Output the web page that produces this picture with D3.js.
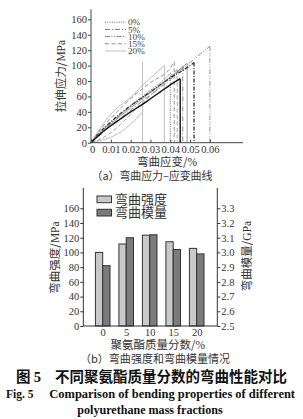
<!DOCTYPE html>
<html><head><meta charset="utf-8">
<script src="https://cdn.jsdelivr.net/npm/d3@7"></script>
<style>
body{margin:0;background:#fff;}
svg{display:block;}
</style></head>
<body>
<svg id="c" width="303" height="419"></svg>
<script>
// ---------- Data: (a) stress-strain curves ----------
const strainTicks = [0, 0.01, 0.02, 0.03, 0.04, 0.05, 0.06];
const strainTickLabels = ["0", "0.01", "0.02", "0.03", "0.04", "0.05", "0.06"];
const stressTicks = [0, 20, 40, 60, 80, 100, 120, 140, 160];
const legendSeries = ["0%", "5%", "10%", "15%", "20%"];

// [strain, stress MPa]; each specimen ends with its fracture drop
const curve0a  = [[0,0],[0.005,14],[0.01,26],[0.02,48],[0.03,68],[0.036,80],[0.040,90],[0.040,0]];
const curve0b  = [[0,0],[0.005,12],[0.01,22],[0.015,31],[0.02,40],[0.025,48],[0.03,57],[0.035,66],[0.04,75],[0.045,83],[0.045,0]];
const curve5a  = [[0,0],[0.005,11],[0.01,22],[0.02,42],[0.03,62],[0.04,82],[0.0463,99],[0.0463,0]];
const curve5b  = [[0,0],[0.005,15],[0.01,27],[0.02,48],[0.03,66],[0.04,84],[0.05,100],[0.052,104],[0.052,0]];
const curve10a = [[0,0],[0.005,13],[0.01,25],[0.02,47],[0.03,66],[0.04,84],[0.05,104],[0.056,117],[0.060,125],[0.060,0]];
const curve15a = [[0,0],[0.005,18],[0.01,32],[0.02,57],[0.03,78],[0.04,97],[0.042,105],[0.042,0]];
const curve15b = [[0,0],[0.005,5],[0.01,13],[0.015,24],[0.02,37],[0.03,61],[0.04,86],[0.0435,95],[0.0435,0]];
const curve20a = [[0,0],[0.005,20],[0.01,37],[0.02,59],[0.028,79],[0.037,100],[0.037,0]];
const curve20b = [[0,0],[0.005,3],[0.01,7],[0.015,14],[0.02,24],[0.026,40],[0.026,105],[0.026,0]];
const curve20c = [[0,0],[0.005,12],[0.01,24],[0.02,45],[0.03,65],[0.04,85],[0.0485,103],[0.0485,0]];

const specimens = [
  {id:"20b", pts:curve20b}, {id:"20a", pts:curve20a}, {id:"20c", pts:curve20c},
  {id:"15a", pts:curve15a}, {id:"15b", pts:curve15b},
  {id:"10a", pts:curve10a},
  {id:"5a", pts:curve5a}, {id:"5b", pts:curve5b},
  {id:"0a", pts:curve0a}, {id:"0b", pts:curve0b}
];

// ---------- Data: (b) bar chart ----------
const categories = ["0", "5", "10", "15", "20"];
const strengthMPa = [100, 111.5, 123.5, 114.5, 105.5];
const modulusGPa  = [2.91, 3.10, 3.12, 3.02, 2.99];
const leftTicks  = [0, 20, 40, 60, 80, 100, 120, 140, 160];
const rightTicks = [2.5, 2.6, 2.7, 2.8, 2.9, 3.0, 3.1, 3.2, 3.3];
const barLegend  = ["弯曲强度", "弯曲模量"];

// ---------- styles ----------
const SERIF = "'Liberation Serif','DejaVu Serif',serif";
const CJK = "'Noto Sans CJK SC',sans-serif";
const TXT = "#333";
const seriesStyle = {
  "0%":  {stroke:"#555", width:0.9, dash:"1,1.3"},
  "5%":  {stroke:"#666", width:0.9, dash:"5,2,1,2"},
  "10%": {stroke:"#777", width:0.9, dash:"5,1.5,1,1.5,1,1.5"},
  "15%": {stroke:"#888", width:0.9, dash:"4,2.5"},
  "20%": {stroke:"#bdbdbd", width:1.0, dash:null}
};
const specStyle = {
  "0a": {stroke:"#555", width:0.9, dash:"1,1.3"},
  "0b": {stroke:"#111", width:1.4, dash:null},
  "5a": {stroke:"#777", width:0.9, dash:"5,2,1,2"},
  "5b": {stroke:"#333", width:1.3, dash:"4,1.5,1,1.5"},
  "10a":{stroke:"#888", width:0.9, dash:"5,1.5,1,1.5,1,1.5"},
  "15a":{stroke:"#888", width:0.9, dash:"4,2.5"},
  "15b":{stroke:"#999", width:0.9, dash:"4,2.5"},
  "20a":{stroke:"#bdbdbd", width:1.0, dash:null},
  "20b":{stroke:"#c4c4c4", width:1.0, dash:null},
  "20c":{stroke:"#9a9a9a", width:1.0, dash:null}
};

const svg = d3.select("#c");

// ================= (a) =================
const ax = {left:91, right:243, bottom:142.7, top:9.3};
const x = d3.scaleLinear().domain([0, 0.0767]).range([ax.left, ax.right]);
const y = d3.scaleLinear().domain([0, 173]).range([ax.bottom, ax.top]);

const gA = svg.append("g");
const line = d3.line().x(d=>x(d[0])).y(d=>y(d[1]));
const smooth = d3.line().x(d=>x(d[0])).y(d=>y(d[1])).curve(d3.curveMonotoneX);

specimens.forEach(s => {
  const st = specStyle[s.id];
  // smooth rising part, straight fracture drop
  const rise = s.pts.filter((p,i)=> i < s.pts.length - 1 && !(i>0 && p[0]===s.pts[i-1][0]));
  const drops = s.pts.slice(rise.length - 1);
  [smooth(rise), line(drops)].forEach(dp=>{
    gA.append("path").attr("d", dp)
      .attr("fill","none").attr("stroke",st.stroke).attr("stroke-width",st.width)
      .attr("stroke-dasharray",st.dash);
  });
});

// axes
const yAxisA = d3.axisLeft(y).tickValues(stressTicks).tickSize(3).tickPadding(1).tickFormat(d3.format("d"));
const gy = gA.append("g").attr("transform",`translate(${ax.left},0)`).call(yAxisA);
gy.select(".domain").attr("d",`M0,${ax.bottom}V${ax.top}`);
const xAxisA = d3.axisBottom(x).tickValues(strainTicks).tickSize(-3).tickPadding(3)
  .tickFormat((d,i)=>strainTickLabels[i]);
const gx = gA.append("g").attr("transform",`translate(0,${ax.bottom})`).call(xAxisA);
gx.select(".domain").attr("d",`M${ax.left},0H${ax.right}`);
[gy,gx].forEach(g=>{
  g.selectAll(".domain").attr("stroke","#444").attr("stroke-width",1);
  g.selectAll(".tick line").attr("stroke","#444");
  g.selectAll("text").attr("font-family",SERIF).attr("font-size",10.5).attr("fill",TXT);
});
gx.selectAll(".tick").filter(d=>d===0).select("text").attr("dx",1);

// legend (a)
const lg = gA.append("g");
const legY = [22.2, 29.4, 36.6, 43.8, 51.0];
legendSeries.forEach((s,i)=>{
  const st = seriesStyle[s];
  lg.append("line").attr("x1",105).attr("x2",126).attr("y1",legY[i]).attr("y2",legY[i])
    .attr("stroke",st.stroke).attr("stroke-width",st.width).attr("stroke-dasharray",st.dash);
  lg.append("text").attr("x",128).attr("y",legY[i]+3.2).text(s)
    .attr("font-family",SERIF).attr("font-size",9.2).attr("fill","#444");
});

// titles (a)
function rotTitle(g, cx, cy, cjk, lat){
  const t = g.append("text").attr("transform",`translate(${cx},${cy}) rotate(-90)`).attr("text-anchor","middle")
    .attr("font-family",CJK).attr("font-size",11.5).attr("fill",TXT);
  t.append("tspan").text(cjk);
  t.append("tspan").attr("font-family",SERIF).text(lat);
}
rotTitle(gA, 65, 76, "拉伸应力/", "MPa");
gA.append("text").attr("x",167).attr("y",166).attr("text-anchor","middle")
  .attr("font-family",CJK).attr("font-size",11.5).attr("fill",TXT)
  .text("弯曲应变/").append("tspan").attr("font-family",SERIF).text("%");
gA.append("text").attr("x",152).attr("y",180).attr("text-anchor","middle")
  .attr("font-family",CJK).attr("font-size",11).attr("fill",TXT)
  .attr("textLength",121).attr("lengthAdjust","spacing")
  .text("（a）弯曲应力–应变曲线");

// ================= (b) =================
const bx = {left:83.3, right:217.3, bottom:326, top:188, y160:208.3};
const yL = d3.scaleLinear().domain([0, 160]).range([bx.bottom, bx.y160]);
const yR = d3.scaleLinear().domain([2.5, 3.3]).range([bx.bottom, bx.y160]);
const xc = d3.scalePoint().domain(categories).range([bx.left + 19.4, bx.right - 20.6]);
const bw = 7.3;

const gB = svg.append("g");
gB.selectAll("rect.s").data(categories).join("rect").attr("class","s")
  .attr("x",(d)=>xc(d)-bw).attr("width",bw)
  .attr("y",(d,i)=>yL(strengthMPa[i])).attr("height",(d,i)=>yL(0)-yL(strengthMPa[i]))
  .attr("fill","#c9c9c9").attr("stroke","#333").attr("stroke-width",1);
gB.selectAll("rect.m").data(categories).join("rect").attr("class","m")
  .attr("x",(d)=>xc(d)).attr("width",bw)
  .attr("y",(d,i)=>yR(modulusGPa[i])).attr("height",(d,i)=>yR(2.5)-yR(modulusGPa[i]))
  .attr("fill","#7b7b7b").attr("stroke","#333").attr("stroke-width",1);

const gl = gB.append("g").attr("transform",`translate(${bx.left},0)`)
  .call(d3.axisLeft(yL).tickValues(leftTicks).tickSize(3).tickPadding(1).tickFormat(d3.format("d")));
gl.select(".domain").attr("d",`M0,${bx.bottom}V${bx.top}`);
const gr = gB.append("g").attr("transform",`translate(${bx.right},0)`)
  .call(d3.axisRight(yR).tickValues(rightTicks).tickSize(3).tickPadding(1).tickFormat(d3.format(".1f")));
gr.select(".domain").attr("d",`M0,${bx.bottom}V${bx.top}`);
const gbx = gB.append("g").attr("transform",`translate(0,${bx.bottom})`)
  .call(d3.axisBottom(xc).tickSize(0).tickPadding(3));
gbx.select(".domain").attr("d",`M${bx.left},0H${bx.right}`);
[gl,gr,gbx].forEach(g=>{
  g.selectAll(".domain").attr("stroke","#333").attr("stroke-width",1);
  g.selectAll(".tick line").attr("stroke","#333");
  g.selectAll("text").attr("font-family",SERIF).attr("font-size",10.5).attr("fill",TXT);
});

// legend (b)
const lgB = gB.append("g");
[["#c9c9c9",196],["#7b7b7b",209.3]].forEach((c,i)=>{
  lgB.append("rect").attr("x",97).attr("y",c[1]).attr("width",14.5).attr("height",6.7)
    .attr("fill",c[0]).attr("stroke","#333").attr("stroke-width",1);
  lgB.append("text").attr("x",115).attr("y",c[1]+8.1).text(barLegend[i])
    .attr("font-family",CJK).attr("font-size",13).attr("fill",TXT);
});

// titles (b)
rotTitle(gB, 58.5, 257.5, "弯曲强度/", "MPa");
rotTitle(gB, 250.5, 256, "弯曲模量/", "GPa");
gB.append("text").attr("x",157.7).attr("y",349).attr("text-anchor","middle")
  .attr("font-family",CJK).attr("font-size",11.5).attr("fill",TXT)
  .text("聚氨酯质量分数/").append("tspan").attr("font-family",SERIF).text("%");
gB.append("text").attr("x",155).attr("y",362.5).attr("text-anchor","middle")
  .attr("font-family",CJK).attr("font-size",11).attr("fill",TXT)
  .attr("textLength",150).attr("lengthAdjust","spacing")
  .text("（b）弯曲强度和弯曲模量情况");

// ================= figure caption =================
svg.append("text").attr("x",16).attr("y",381.5).attr("font-family",CJK).attr("font-weight","bold")
  .attr("font-size",14.5).attr("fill","#111").text("图 ")
  .append("tspan").attr("font-family",SERIF).text("5");
svg.append("text").attr("x",55).attr("y",381.5).attr("font-family",CJK).attr("font-weight","bold")
  .attr("font-size",14.5).attr("fill","#111").attr("textLength",232).attr("lengthAdjust","spacing")
  .text("不同聚氨酯质量分数的弯曲性能对比");
svg.append("text").attr("x",6).attr("y",397.5).attr("font-family",SERIF).attr("font-weight","bold")
  .attr("font-size",11.5).attr("fill","#111").text("Fig. 5");
svg.append("text").attr("x",49.3).attr("y",397.5).attr("font-family",SERIF).attr("font-weight","bold")
  .attr("font-size",11.5).attr("fill","#111").attr("textLength",245.7).attr("lengthAdjust","spacingAndGlyphs")
  .text("Comparison of bending properties of different");
svg.append("text").attr("x",150).attr("y",414).attr("text-anchor","middle").attr("font-family",SERIF).attr("font-weight","bold")
  .attr("font-size",11.5).attr("fill","#111").attr("textLength",145.4).attr("lengthAdjust","spacingAndGlyphs")
  .text("polyurethane mass fractions");
</script>
</body></html>
